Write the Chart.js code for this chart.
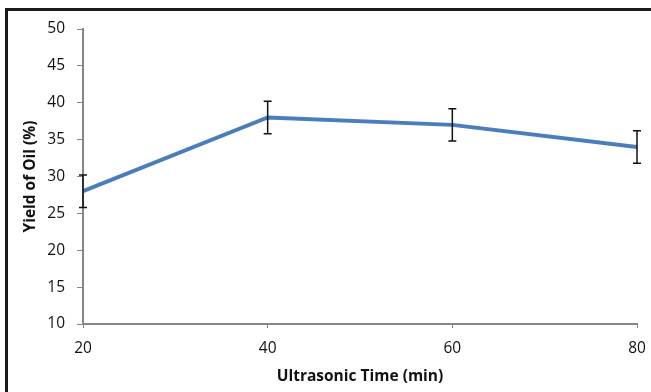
<!DOCTYPE html>
<html>
<head>
<meta charset="utf-8">
<script src="https://cdn.jsdelivr.net/npm/chart.js@4"></script>
<style>
  html, body { margin: 0; padding: 0; background: #fff; }
  #wrap { position: relative; width: 651px; height: 392px; overflow: hidden; }
  #frame { position: absolute; left: 5px; top: 8px; width: 700px; height: 500px;
           border-top: 3px solid #1a1a1a; border-left: 3px solid #1a1a1a; pointer-events: none; }
</style>
</head>
<body>
<div id="wrap">
  <canvas id="c" width="651" height="392"></canvas>
  <div id="frame"></div>
</div>
<script>
// 超音波時間 (min) 與產油率 (%)
const times = [20, 40, 60, 80];
const yields = [28, 38, 37, 34];
const errs = [2.2, 2.2, 2.2, 2.2]; // 誤差線 ±

const yTicks = [10, 15, 20, 25, 30, 35, 40, 45, 50];

const axisGray = '#868686';
const font = 'Open Sans';

// 誤差線外掛
const errorBars = {
    id: 'errorBars',
    afterDatasetsDraw(chart) {
        const { ctx, scales: { x, y } } = chart;
        ctx.save();
        ctx.strokeStyle = '#111';
        ctx.lineWidth = 1.5;
        times.forEach((t, i) => {
            const px = x.getPixelForValue(t);
            const top = y.getPixelForValue(yields[i] + errs[i]);
            const bot = y.getPixelForValue(yields[i] - errs[i]);
            ctx.beginPath();
            ctx.moveTo(px, top); ctx.lineTo(px, bot);
            ctx.moveTo(px - 4, top); ctx.lineTo(px + 4, top);
            ctx.moveTo(px - 4, bot); ctx.lineTo(px + 4, bot);
            ctx.stroke();
        });
        ctx.restore();
    }
};

new Chart(document.getElementById('c'), {
    type: 'line',
    data: {
        datasets: [{
            data: times.map((t, i) => ({ x: t, y: yields[i] })),
            borderColor: '#4a7ebb',
            borderWidth: 4,
            pointRadius: 0,
            tension: 0,
        }]
    },
    options: {
        responsive: false,
        animation: false,
        layout: { padding: { top: 29, right: 14, left: 0, bottom: 0 } },
        plugins: { legend: { display: false }, tooltip: { enabled: false } },
        scales: {
            x: {
                type: 'linear',
                min: 20, max: 80,
                afterFit: s => { s.height = 68; s.paddingLeft = 0; s.paddingRight = 0; },
                border: { color: axisGray, width: 2 },
                grid: { drawOnChartArea: false, color: axisGray, tickLength: 4 },
                ticks: { stepSize: 20, color: '#111', padding: 11, font: { family: font, size: 15.5 } },
                title: {
                    display: true, text: 'Ultrasonic Time (min)', color: '#111',
                    font: { family: font, size: 15.5, weight: 'bold' },
                    padding: { top: 0, bottom: 6 }
                }
            },
            y: {
                min: 10, max: 50,
                afterFit: s => { s.width = 83; s.paddingTop = 0; s.paddingBottom = 0; },
                afterBuildTicks: s => { s.ticks = yTicks.map(v => ({ value: v })); },
                border: { color: axisGray, width: 2 },
                grid: { drawOnChartArea: false, color: axisGray, tickLength: 6 },
                ticks: { color: '#111', padding: 12, font: { family: font, size: 15.5 } },
                title: {
                    display: true, text: 'Yield of Oil (%)', color: '#111',
                    font: { family: font, size: 15.5, weight: 'bold' },
                    padding: { top: 21, bottom: 0 }
                }
            }
        }
    },
    plugins: [errorBars]
});
</script>
</body>
</html>
